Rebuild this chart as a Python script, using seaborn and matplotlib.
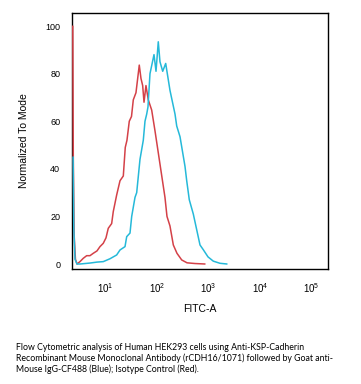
import numpy as np
import pandas as pd
import matplotlib
matplotlib.use("Agg")
import matplotlib.pyplot as plt
import seaborn as sns

# FITC-A positions (log10 decades) and normalized-to-mode counts
isotype_log = [0.365, 0.375, 0.392, 0.417, 0.447, 0.505, 0.569, 0.635, 0.699, 0.763,
               0.835, 0.893, 0.957, 1.010, 1.054, 1.120, 1.151, 1.217, 1.282, 1.346,
               1.384, 1.417, 1.462, 1.505, 1.540, 1.592, 1.656, 1.689, 1.722, 1.748,
               1.786, 1.831, 1.897, 1.961, 2.058, 2.155, 2.194, 2.252, 2.317, 2.388,
               2.480, 2.583, 2.738, 2.932]
isotype_val = [100, 45, 12, 2, 0, 1, 2.4, 3.5, 3.5, 4.5,
               5.5, 7.3, 8.7, 11, 15, 17, 22, 29, 35, 37,
               49, 52, 60, 62, 69, 72, 83.6, 78, 75, 68,
               75, 69, 64.7, 56, 42, 28, 20, 16, 8, 4.5,
               1.7, 0.5, 0.2, 0]

antibody_log = [0.372, 0.385, 0.408, 0.447, 0.505, 0.699, 0.835, 0.957, 1.087, 1.217,
                1.282, 1.379, 1.412, 1.476, 1.509, 1.573, 1.606, 1.670, 1.734, 1.767,
                1.800, 1.825, 1.864, 1.903, 1.942, 1.981, 2.025, 2.058, 2.111, 2.169,
                2.252, 2.350, 2.383, 2.447, 2.544, 2.577, 2.627, 2.705, 2.835, 2.899,
                2.990, 3.093, 3.223, 3.359]
antibody_val = [45, 15, 2, 0, 0, 0.4, 0.8, 1, 2.2, 3.8,
                5.9, 7.3, 11.5, 13, 20, 28, 30, 44, 52, 60,
                63, 66, 80, 84, 88, 81, 93.4, 85, 81, 84.3,
                73, 63, 58, 53.5, 41, 35, 27, 21, 8, 6,
                3, 1.2, 0.3, 0]

x_ticks = [1, 2, 3, 4, 5]
y_ticks = [0, 20, 40, 60, 80, 100]

caption = ("Flow Cytometric analysis of Human HEK293 cells using Anti-KSP-Cadherin\n"
           "Recombinant Mouse Monoclonal Antibody (rCDH16/1071) followed by Goat anti-\n"
           "Mouse IgG-CF488 (Blue); Isotype Control (Red).")

df = pd.concat([
    pd.DataFrame({"FITC-A": np.power(10.0, isotype_log), "value": isotype_val, "sample": "Isotype"}),
    pd.DataFrame({"FITC-A": np.power(10.0, antibody_log), "value": antibody_val, "sample": "Antibody"}),
])

sns.set_style("white")
plt.rcParams['font.family'] = ['Liberation Sans', 'DejaVu Sans']
plt.rcParams['text.color'] = 'black'
plt.rcParams['axes.labelcolor'] = 'black'
plt.rcParams['xtick.color'] = 'black'
plt.rcParams['ytick.color'] = 'black'
plt.rcParams['mathtext.fontset'] = 'custom'
plt.rcParams['mathtext.rm'] = 'Liberation Sans'

fig = plt.figure(figsize=(3.61, 3.84), dpi=100)
ax = fig.add_axes([72 / 361, 1 - 269 / 384, 256 / 361, 256 / 384])

sns.lineplot(data=df, x="FITC-A", y="value", hue="sample", sort=False,
             palette={"Isotype": "#d44148", "Antibody": "#25b9d9"},
             hue_order=["Isotype", "Antibody"], linewidth=1.1, legend=False,
             zorder=3, ax=ax)

ax.set_xscale("log")
ax.set_xlim(10 ** 0.35, 10 ** 5.32)
ax.set_ylim(-2.1, 105.5)
ax.set_xticks([10 ** t for t in x_ticks])
ax.set_xticklabels([f"$\\mathregular{{10^{{{t}}}}}$" for t in x_ticks], fontsize=7)
ax.xaxis.set_minor_locator(matplotlib.ticker.NullLocator())
ax.set_yticks(y_ticks)
ax.set_yticklabels([str(t) for t in y_ticks], fontsize=6.5)
ax.tick_params(length=0)
ax.tick_params(axis="y", pad=8.5)
ax.tick_params(axis="x", pad=9)

ax.set_xlabel("FITC-A", fontsize=7.5, labelpad=6)
ax.set_ylabel("Normalized To Mode", fontsize=7.5, labelpad=11.5)
for s in ax.spines.values():
    s.set_color("black")
    s.set_linewidth(1.0)

fig.text(16 / 361, 1 - 343 / 384, caption, fontsize=6.3, va="top", ha="left",
         family=["Lato", "DejaVu Sans"], linespacing=1.2)

plt.savefig("out.png", dpi=100)
